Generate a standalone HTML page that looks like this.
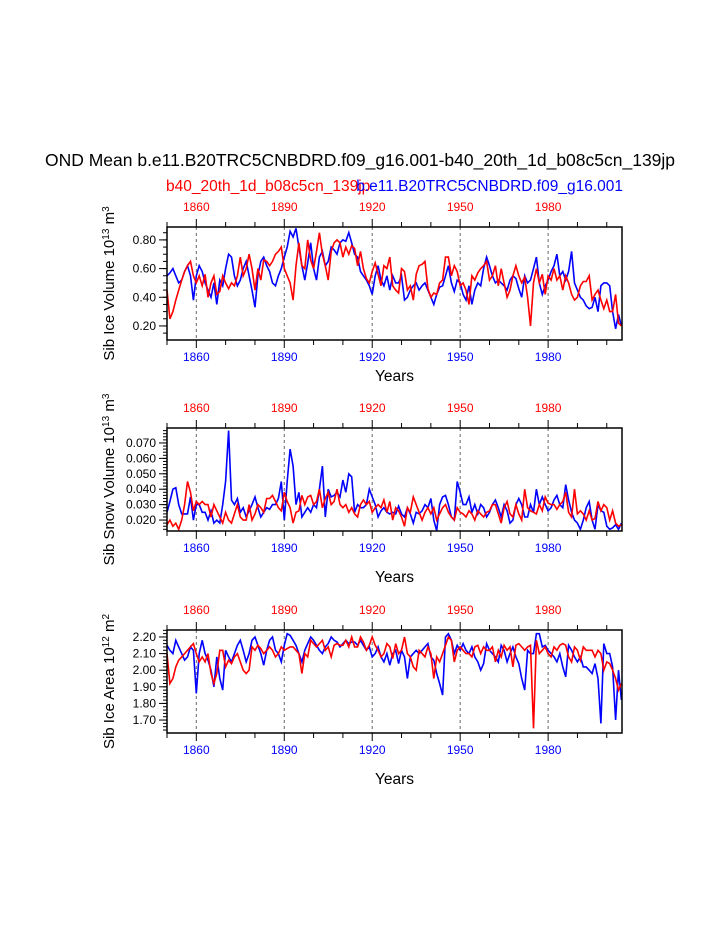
<!DOCTYPE html>
<html><head><meta charset="utf-8"><style>
body{margin:0;background:#fff;}
svg{display:block;font-family:"Liberation Sans",sans-serif;}
</style></head><body>
<svg id="chart" width="723" height="935">
<text x="360" y="166" text-anchor="middle" font-size="17.5">OND Mean b.e11.B20TRC5CNBDRD.f09_g16.001-b40_20th_1d_b08c5cn_139jp</text>
<text x="166" y="191" font-size="15.5" fill="#f00">b40_20th_1d_b08c5cn_139jp</text>
<text x="623" y="191" text-anchor="end" font-size="15.5" fill="#00f">b.e11.B20TRC5CNBDRD.f09_g16.001</text>
</svg>
<script>
const years0 = 1850;
const iceVolRed = [0.45,0.25,0.30,0.38,0.45,0.52,0.58,0.62,0.65,0.55,0.50,0.55,0.48,0.56,0.40,0.50,0.55,0.42,0.44,0.55,0.50,0.46,0.50,0.48,0.55,0.68,0.55,0.60,0.70,0.60,0.45,0.60,0.52,0.66,0.65,0.62,0.65,0.70,0.72,0.75,0.60,0.55,0.50,0.38,0.62,0.78,0.62,0.60,0.80,0.66,0.60,0.72,0.85,0.70,0.62,0.52,0.72,0.78,0.80,0.78,0.68,0.75,0.70,0.76,0.74,0.62,0.72,0.60,0.53,0.50,0.58,0.64,0.56,0.48,0.62,0.60,0.68,0.48,0.45,0.43,0.60,0.58,0.45,0.48,0.38,0.56,0.62,0.63,0.65,0.46,0.40,0.43,0.42,0.50,0.52,0.68,0.68,0.55,0.62,0.58,0.48,0.50,0.45,0.35,0.55,0.52,0.57,0.60,0.62,0.65,0.52,0.55,0.62,0.48,0.60,0.50,0.40,0.45,0.55,0.62,0.55,0.50,0.54,0.40,0.20,0.50,0.60,0.50,0.56,0.42,0.55,0.52,0.60,0.52,0.55,0.45,0.55,0.50,0.42,0.38,0.40,0.48,0.51,0.51,0.55,0.38,0.42,0.45,0.38,0.32,0.38,0.30,0.30,0.42,0.22,0.20];
const iceVolBlue = [0.55,0.57,0.60,0.55,0.50,0.52,0.58,0.62,0.55,0.38,0.55,0.62,0.58,0.50,0.45,0.40,0.50,0.35,0.52,0.48,0.60,0.70,0.68,0.55,0.48,0.52,0.60,0.65,0.55,0.45,0.33,0.55,0.65,0.68,0.62,0.58,0.50,0.48,0.55,0.60,0.68,0.75,0.86,0.82,0.88,0.75,0.62,0.52,0.64,0.78,0.60,0.52,0.68,0.72,0.62,0.65,0.75,0.73,0.70,0.78,0.80,0.79,0.85,0.78,0.70,0.68,0.58,0.55,0.52,0.48,0.42,0.55,0.62,0.52,0.48,0.55,0.45,0.55,0.50,0.50,0.55,0.38,0.40,0.45,0.48,0.50,0.45,0.48,0.50,0.45,0.40,0.35,0.42,0.47,0.48,0.55,0.62,0.50,0.44,0.52,0.50,0.42,0.38,0.48,0.35,0.45,0.50,0.48,0.60,0.68,0.62,0.55,0.50,0.52,0.50,0.48,0.45,0.52,0.55,0.53,0.46,0.40,0.55,0.50,0.52,0.60,0.68,0.50,0.42,0.48,0.52,0.58,0.62,0.70,0.55,0.58,0.52,0.58,0.72,0.50,0.45,0.40,0.38,0.34,0.32,0.33,0.40,0.30,0.48,0.50,0.50,0.48,0.30,0.18,0.28,0.20];
const snowRed = [0.017,0.020,0.016,0.018,0.014,0.020,0.030,0.045,0.038,0.026,0.032,0.030,0.032,0.030,0.030,0.022,0.030,0.026,0.022,0.018,0.025,0.020,0.018,0.024,0.030,0.022,0.020,0.020,0.030,0.020,0.024,0.030,0.028,0.025,0.034,0.034,0.036,0.032,0.028,0.026,0.038,0.032,0.028,0.018,0.025,0.026,0.036,0.030,0.035,0.036,0.030,0.032,0.040,0.028,0.034,0.038,0.030,0.032,0.040,0.030,0.028,0.030,0.025,0.028,0.024,0.022,0.030,0.033,0.030,0.032,0.025,0.028,0.030,0.028,0.033,0.025,0.032,0.020,0.028,0.026,0.022,0.016,0.028,0.025,0.035,0.030,0.025,0.020,0.025,0.028,0.024,0.028,0.020,0.024,0.028,0.030,0.025,0.022,0.020,0.028,0.025,0.024,0.022,0.026,0.024,0.020,0.026,0.024,0.022,0.025,0.026,0.030,0.030,0.024,0.018,0.028,0.032,0.024,0.022,0.030,0.024,0.020,0.040,0.028,0.026,0.025,0.024,0.030,0.026,0.035,0.031,0.030,0.030,0.027,0.030,0.032,0.038,0.025,0.022,0.040,0.024,0.026,0.024,0.020,0.026,0.020,0.021,0.032,0.026,0.030,0.028,0.020,0.026,0.018,0.016,0.017];
const snowBlue = [0.025,0.032,0.040,0.041,0.030,0.024,0.024,0.024,0.035,0.020,0.030,0.030,0.025,0.025,0.020,0.026,0.018,0.020,0.018,0.030,0.045,0.078,0.033,0.030,0.034,0.025,0.028,0.022,0.026,0.030,0.035,0.028,0.022,0.025,0.028,0.027,0.030,0.030,0.034,0.045,0.020,0.045,0.066,0.055,0.030,0.038,0.022,0.025,0.028,0.025,0.030,0.028,0.040,0.055,0.022,0.040,0.035,0.036,0.038,0.035,0.046,0.038,0.050,0.048,0.025,0.030,0.028,0.028,0.030,0.040,0.035,0.030,0.022,0.026,0.028,0.025,0.024,0.025,0.024,0.029,0.024,0.022,0.028,0.024,0.018,0.025,0.024,0.026,0.030,0.028,0.034,0.020,0.013,0.030,0.035,0.036,0.030,0.022,0.020,0.045,0.038,0.030,0.030,0.035,0.025,0.030,0.024,0.030,0.028,0.022,0.025,0.030,0.033,0.028,0.022,0.030,0.026,0.018,0.020,0.030,0.034,0.030,0.022,0.022,0.030,0.025,0.040,0.030,0.035,0.030,0.026,0.028,0.033,0.036,0.030,0.028,0.043,0.033,0.025,0.020,0.018,0.014,0.020,0.028,0.032,0.020,0.014,0.030,0.026,0.025,0.016,0.014,0.015,0.017,0.014,0.018];
const areaRed = [2.10,1.92,1.95,2.02,2.06,2.08,2.10,2.12,2.14,2.16,2.10,2.05,2.08,2.05,2.10,1.98,1.92,1.98,2.12,2.12,2.02,2.06,2.04,2.08,2.10,2.05,2.00,1.98,2.00,2.14,2.12,2.15,2.13,2.10,2.12,2.14,2.12,2.08,2.10,2.14,2.12,2.13,2.14,2.14,2.12,2.10,1.98,2.10,2.08,2.18,2.16,2.14,2.16,2.18,2.12,2.14,2.08,2.15,2.16,2.15,2.15,2.18,2.14,2.20,2.14,2.14,2.20,2.17,2.12,2.15,2.20,2.15,2.12,2.08,2.10,2.16,2.14,2.07,2.16,2.10,2.12,2.20,2.10,2.08,2.02,2.00,2.12,2.10,2.08,2.14,2.10,1.95,2.08,2.05,2.10,2.15,2.20,2.18,2.05,2.12,2.14,2.12,2.10,2.10,2.08,2.14,2.15,2.10,2.14,2.12,2.12,2.14,2.05,2.12,2.08,2.15,2.12,2.14,2.02,2.15,2.16,2.14,2.12,2.14,2.15,1.65,2.18,2.10,2.12,2.14,2.10,2.08,2.14,2.12,2.15,2.16,2.15,2.08,2.05,2.14,2.12,2.06,2.14,2.12,2.12,2.12,2.08,2.12,2.10,2.00,2.05,2.04,2.00,1.95,1.88,1.92];
const areaBlue = [2.15,2.12,2.10,2.18,2.14,2.10,2.06,2.08,2.14,2.12,1.86,2.10,2.18,2.10,2.06,2.00,1.90,2.08,1.95,1.88,2.12,2.08,2.05,2.10,2.15,2.18,2.12,2.05,2.10,2.18,2.20,2.15,2.10,2.03,2.12,2.18,2.20,2.12,2.10,2.05,2.15,2.22,2.21,2.18,2.15,2.10,2.05,2.12,2.16,2.20,2.18,2.15,2.12,2.10,2.14,2.16,2.20,2.18,2.17,2.14,2.16,2.18,2.16,2.17,2.17,2.15,2.18,2.15,2.12,2.14,2.08,2.10,2.14,2.08,2.05,2.10,2.03,2.10,2.12,2.04,2.12,2.08,1.95,2.08,2.10,2.12,2.10,2.12,2.14,2.16,2.08,2.06,1.98,1.92,1.85,2.20,2.22,2.18,2.10,2.15,2.12,2.16,2.12,2.10,2.14,2.08,2.05,2.00,2.04,2.16,2.12,2.10,2.08,2.05,2.15,2.12,2.05,2.10,2.14,2.08,2.04,1.95,1.88,2.12,2.10,2.10,2.22,2.22,2.14,2.15,2.12,2.10,2.08,2.05,2.10,2.02,1.96,2.15,2.12,2.08,2.05,2.08,2.02,2.02,2.00,1.98,2.04,1.95,1.68,2.16,2.10,2.10,2.02,1.70,2.00,1.82];
const xLabels = [1860,1890,1920,1950,1980];
const vol_ticks = [0.20,0.40,0.60,0.80];
const snow_ticks = [0.020,0.030,0.040,0.050,0.060,0.070];
const area_ticks = [1.70,1.80,1.90,2.00,2.10,2.20];

const svg = document.getElementById('chart');
const NS = 'http://www.w3.org/2000/svg';
function mk(tag, attrs, parent){const e=document.createElementNS(NS,tag);for(const k in attrs)e.setAttribute(k,attrs[k]);(parent||svg).appendChild(e);return e;}
const X0=167, X1=622, Y_START=1850, Y_END=2005.2;
const xs = y => X0 + (y - Y_START) / (Y_END - Y_START) * (X1 - X0);

const panels = [
 {name:'ice-volume', top:227, bot:340, vmin:0.102, vmax:0.89, red:iceVolRed, blue:iceVolBlue, ticks:vol_ticks, minor:0.05, dec:2, title:['Sib Ice Volume 10','13',' m','3'], yearsY:381},
 {name:'snow-volume', top:428, bot:531, vmin:0.0129, vmax:0.0797, red:snowRed, blue:snowBlue, ticks:snow_ticks, minor:0.002, dec:3, title:['Sib Snow Volume 10','13',' m','3'], yearsY:582},
 {name:'ice-area', top:630, bot:733, vmin:1.622, vmax:2.242, red:areaRed, blue:areaBlue, ticks:area_ticks, minor:0.02, dec:2, title:['Sib Ice Area 10','12',' m','2'], yearsY:784}
];

panels.forEach(p=>{
  const g = mk('g',{});
  
  
  const ys = v => p.bot - (v - p.vmin)/(p.vmax - p.vmin)*(p.bot-p.top);
  xLabels.forEach(yr=>{
    const l=mk('line',{x1:xs(yr),x2:xs(yr),y1:p.top,y2:p.bot,stroke:'#666','stroke-width':1,'stroke-dasharray':'3,3'},g);
    
    
  });
  for(let yr=1850; yr<=2000; yr+=10){
    const major = xLabels.includes(yr);
    const len = major?8:5;
    mk('line',{x1:xs(yr),x2:xs(yr),y1:p.top-len,y2:p.top,stroke:'#000','stroke-width':1},g);
    mk('line',{x1:xs(yr),x2:xs(yr),y1:p.bot,y2:p.bot+len,stroke:'#000','stroke-width':1},g);
  }
  xLabels.forEach(yr=>{
    const t=mk('text',{x:xs(yr),y:p.top-16,'text-anchor':'middle','font-size':12,fill:'#f00'},g);
    t.textContent=yr;
    
    
    const b=mk('text',{x:xs(yr),y:p.bot+21,'text-anchor':'middle','font-size':12,fill:'#00f'},g);
    b.textContent=yr;
    
    
  });
  for(let v=Math.ceil(p.vmin/p.minor)*p.minor; v<=p.vmax; v+=p.minor){
    mk('line',{x1:X0-4,x2:X0,y1:ys(v),y2:ys(v),stroke:'#000','stroke-width':1},g);
  }
  p.ticks.forEach(v=>{
    mk('line',{x1:X0-8,x2:X0,y1:ys(v),y2:ys(v),stroke:'#000','stroke-width':1},g);
    const t=mk('text',{x:X0-11,y:ys(v)+4,'text-anchor':'end','font-size':12},g);
    t.textContent=v.toFixed(p.dec);
    
    
  });
  [['blue',p.blue,'#00f'],['red',p.red,'#f00']].forEach(([nm,arr,c])=>{
    const pts = arr.map((v,i)=>xs(Y_START+i).toFixed(1)+','+ys(v).toFixed(1)).join(' ');
    const pl=mk('polyline',{points:pts,fill:'none',stroke:c,'stroke-width':1.6},g);
    
    
  });
  const fr=mk('rect',{x:X0,y:p.top,width:X1-X0,height:p.bot-p.top,fill:'none',stroke:'#000','stroke-width':1.5},g);
  
  
  const xt=mk('text',{x:(X0+X1)/2,y:p.yearsY,'text-anchor':'middle','font-size':15.5},g);
  xt.textContent='Years';
  
  
  const cy=(p.top+p.bot)/2;
  const yt=mk('text',{x:0,y:0,'text-anchor':'middle','font-size':15,transform:`translate(114,${cy}) rotate(-90)`},g);
  
  
  p.title.forEach((s,i)=>{
    const ts=mk('tspan',{},yt);
    if(i%2===1){ts.setAttribute('baseline-shift','super');ts.setAttribute('font-size','10');}
    ts.textContent=s;
  });
});
</script>
</body></html>
